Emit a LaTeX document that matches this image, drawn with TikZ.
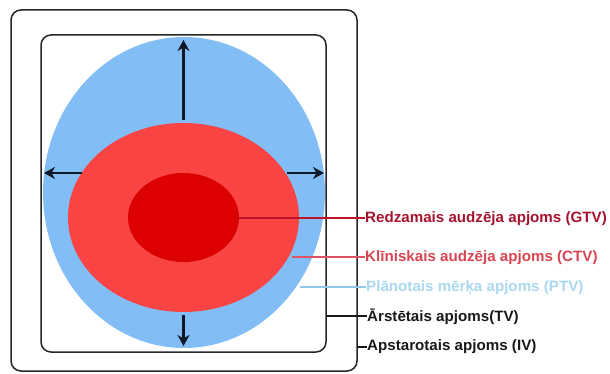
\documentclass[tikz,border=0pt]{standalone}
\usepackage{fontspec}
\setmainfont{Liberation Sans}
\usetikzlibrary{shapes.geometric,arrows.meta}
\definecolor{ptvblue}{HTML}{82BEF5}
\definecolor{ctvred}{HTML}{FA4444}
\definecolor{gtvred}{HTML}{DC0000}
\definecolor{gtvtext}{HTML}{A5142E}
\definecolor{ctvtext}{HTML}{D84452}
\definecolor{ptvtext}{HTML}{AAD8EE}
\definecolor{gtvline}{HTML}{C0102A}
\definecolor{ctvline}{HTML}{E05262}
\definecolor{ptvline}{HTML}{90C8E8}
\definecolor{arrowc}{HTML}{101828}
\tikzset{
  volshape/.style={ellipse,draw=none,inner sep=0pt},
  framebox/.style={draw=black!85,line width=1.5pt,rounded corners=10pt},
  growarrow/.style={draw=arrowc,line width=2.2pt,-{Stealth[length=11pt,width=12pt,inset=3.5pt]}},
  leadline/.style={line width=2.2pt},
  labeltext/.style={anchor=west,inner sep=0pt,font=\fontsize{15}{17}\selectfont\bfseries}
}
\begin{document}
\begin{tikzpicture}[x=1pt,y=-1pt]
\useasboundingbox (0,0) rectangle (610,374);
% frames
\draw[framebox] (11,10) rectangle (357,371);
\draw[framebox] (41,35) rectangle (326,352);
% volumes
\node[volshape,fill=ptvblue,minimum width=282pt,minimum height=311pt] (ptv) at (184,192.5) {};
\node[volshape,fill=ctvred,minimum width=231pt,minimum height=189pt] (ctv) at (183.5,217.5) {};
\node[volshape,fill=gtvred,minimum width=111pt,minimum height=89pt] (gtv) at (183.5,217.5) {};
% arrow coordinates
\coordinate (upS) at (183.5,120);
\coordinate (upT) at (183.5,40);
\coordinate (lS) at (82,173);
\coordinate (lT) at (44,173);
\coordinate (rS) at (287,173);
\coordinate (rT) at (324,173);
\coordinate (dS) at (183.5,315);
\coordinate (dT) at (183.5,346);
\draw[growarrow] (upS) -- (upT);
\draw[growarrow] (lS) -- (lT);
\draw[growarrow] (rS) -- (rT);
\draw[growarrow] (dS) -- (dT);
% labels
\node[labeltext,text=gtvtext] (lgtv) at (365,219) {\scalebox{1.01}[1]{Redzamais audzēja apjoms (GTV)}};
\node[labeltext,text=ctvtext] (lctv) at (365,257.5) {\scalebox{1.01}[1]{Klīniskais audzēja apjoms (CTV)}};
\node[labeltext,text=ptvtext] (lptv) at (366,287.5) {\scalebox{1.01}[1]{Plānotais mērķa apjoms (PTV)}};
\node[labeltext,text=black!90] (ltv) at (367,316.5) {\scalebox{1.01}[1]{Ārstētais apjoms(TV)}};
\node[labeltext,text=black!90] (liv) at (367,347) {\scalebox{1.01}[1]{Apstarotais apjoms (IV)}};
% leader start points
\coordinate (gS) at (239,218);
\coordinate (cS) at (292,257);
\coordinate (pS) at (300,287);
\coordinate (tS) at (326,316);
\coordinate (iS) at (357,347);
\draw[leadline,draw=gtvline] (gS) -- (gS -| lgtv.west);
\draw[leadline,draw=ctvline] (cS) -- (cS -| lctv.west);
\draw[leadline,draw=ptvline] (pS) -- (pS -| lptv.west);
\draw[leadline,draw=black!90,line width=1.6pt] (tS) -- (tS -| ltv.west);
\draw[leadline,draw=black!90,line width=1.6pt] (iS) -- (iS -| liv.west);
\end{tikzpicture}
\end{document}
